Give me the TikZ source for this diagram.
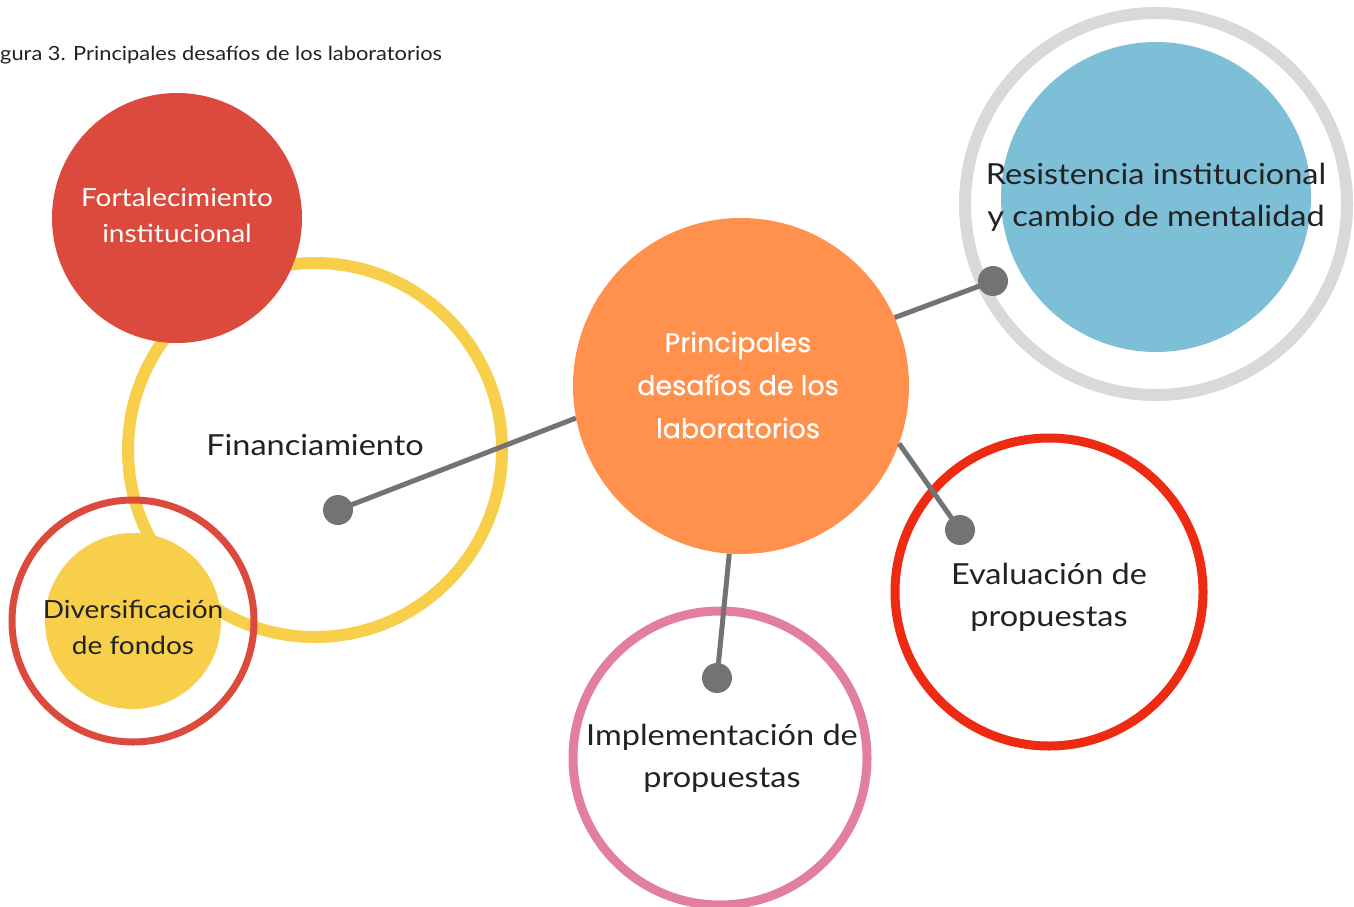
\documentclass[tikz,border=0pt]{standalone}
\usepackage{fontspec}
\setmainfont{Lato}[FakeStretch=1.12]
\newfontfamily\centerfont{Poppins}[FakeBold=0.6]
\definecolor{cred}{HTML}{DC4A3D}
\definecolor{cyellow}{HTML}{F7CF4A}
\definecolor{corange}{HTML}{FF914D}
\definecolor{cgrayring}{HTML}{D9D9D9}
\definecolor{cblue}{HTML}{7EBFD8}
\definecolor{cbright}{HTML}{EE2A12}
\definecolor{cpink}{HTML}{E27F9E}
\definecolor{cline}{HTML}{737373}
\definecolor{ctext}{HTML}{222222}
\begin{document}
\begin{tikzpicture}[x=1pt,y=-1pt,
  lbl/.style={align=center,text=ctext,font=\fontsize{29}{42}\selectfont},
  dot/.style={circle,fill=cline,inner sep=0pt,minimum size=30pt},
  conn/.style={draw=cline,line width=5pt}]
\useasboundingbox (0,0) rectangle (1354,907);
\fill[white] (0,0) rectangle (1354,907);
% title
\node[anchor=base west,inner sep=0pt,text=ctext,font=\fontsize{19.5}{21}\selectfont] (title) at (0,61) {gura 3. Principales desafíos de los laboratorios};
% Financiamiento ring
\draw[cyellow,line width=12pt] (315,450) circle[radius=187];
% Diversificacion
\draw[cred,line width=7pt] (133,621) circle[radius=121];
\fill[cyellow] (133,621) circle[radius=88];
% Fortalecimiento
\fill[cred] (177,218) circle[radius=125];
% orange center
\node[circle,fill=corange,minimum size=336pt,inner sep=0pt] (center) at (741,386) {};
% gray ring + blue
\draw[cgrayring,line width=12pt] (1156,204) circle[radius=191];
\fill[cblue] (1156,197) circle[radius=155];
% evaluacion ring
\draw[cbright,line width=9pt] (1049,592) circle[radius=154];
% implementacion ring
\draw[cpink,line width=9pt] (720,758) circle[radius=147];
% dots and connectors
\node[dot] (d1) at (338,510) {};
\node[dot] (d2) at (993,281) {};
\node[dot] (d3) at (960,530) {};
\node[dot] (d4) at (717,678) {};
\draw[conn] (d1.center) -- (center.191);
\draw[conn] (d2.center) -- (center.24);
\draw[conn] (d3.center) -- (center.-20);
\draw[conn] (d4.center) -- (center.-94);
% texts
\node[align=center,text=white,font=\centerfont\fontsize{27}{43}\selectfont] (ctext) at (738,385) {Principales\\desafíos de los\\laboratorios};
\node[lbl] (finl) at (315,445) {Financiamiento};
\node[lbl,text=white,font=\fontsize{25}{36}\selectfont] (fort) at (177,215) {Fortalecimiento\\institucional};
\node[lbl,font=\fontsize{25}{36}\selectfont] (div) at (133,627) {Diversificación\\de fondos};
\node[lbl] (res) at (1156,197) {Resistencia institucional\\y cambio de mentalidad};
\node[lbl] (eva) at (1049,597) {Evaluación de\\propuestas};
\node[lbl] (imp) at (722,758) {Implementación de\\propuestas};
\end{tikzpicture}
\end{document}
